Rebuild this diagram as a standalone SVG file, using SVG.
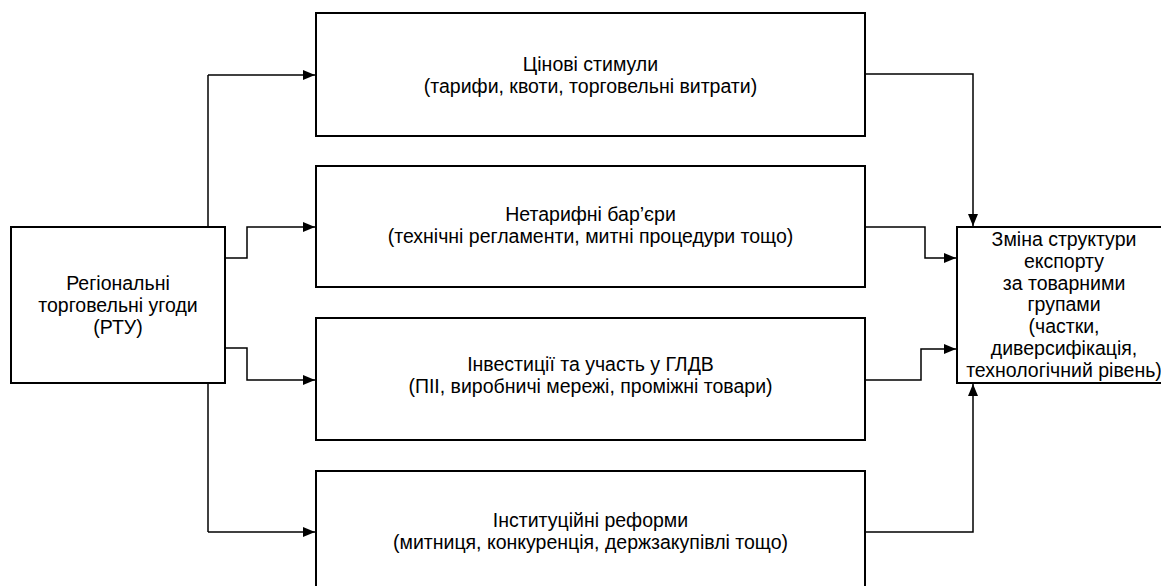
<svg xmlns="http://www.w3.org/2000/svg" width="1161" height="586" viewBox="0 0 1161 586">
  <style>
    .box { fill: #ffffff; stroke: #000000; stroke-width: 2; }
    .lbl { font-family: "Liberation Sans", Arial, sans-serif; font-size: 19.5px; fill: #000000; text-anchor: middle; }
    .wire { fill: none; stroke: #000000; stroke-width: 1.5; }
  </style>
  <defs>
    <marker id="arrow" viewBox="0 0 12 10" refX="12" refY="5" markerWidth="12" markerHeight="10" markerUnits="userSpaceOnUse" orient="auto">
      <path d="M0,0 L12,5 L0,10 Z" fill="#000000"/>
    </marker>
  </defs>

  <rect width="1161" height="586" fill="#ffffff"/>

  <!-- connectors -->
  <g id="connectors">
    <path class="wire" d="M208,75 V532"/>
    <path class="wire" d="M208,75 H315" marker-end="url(#arrow)"/>
    <path class="wire" d="M225,258 H247 V227 H315" marker-end="url(#arrow)"/>
    <path class="wire" d="M225,348 H247 V380 H315" marker-end="url(#arrow)"/>
    <path class="wire" d="M208,532 H315" marker-end="url(#arrow)"/>

    <path class="wire" d="M865,74 H973 V226" marker-end="url(#arrow)"/>
    <path class="wire" d="M865,227 H925 V258 H956" marker-end="url(#arrow)"/>
    <path class="wire" d="M865,380 H921 V349 H956" marker-end="url(#arrow)"/>
    <path class="wire" d="M865,532 H973 V384" marker-end="url(#arrow)"/>
  </g>

  <!-- source -->
  <g id="rta">
    <rect class="box" x="11" y="227" width="214" height="156"/>
    <text class="lbl" x="118" y="290">Регіональні</text>
    <text class="lbl" x="118" y="312">торговельні угоди</text>
    <text class="lbl" x="118" y="334">(РТУ)</text>
  </g>

  <!-- channels -->
  <g id="price">
    <rect class="box" x="316" y="13" width="549" height="123"/>
    <text class="lbl" x="590.5" y="71">Цінові стимули</text>
    <text class="lbl" x="590.5" y="93">(тарифи, квоти, торговельні витрати)</text>
  </g>

  <g id="ntb">
    <rect class="box" x="316" y="166" width="549" height="121"/>
    <text class="lbl" x="590.5" y="221">Нетарифні бар’єри</text>
    <text class="lbl" x="590.5" y="243">(технічні регламенти, митні процедури тощо)</text>
  </g>

  <g id="gvc">
    <rect class="box" x="316" y="318" width="549" height="122"/>
    <text class="lbl" x="590.5" y="371">Інвестиції та участь у ГЛДВ</text>
    <text class="lbl" x="590.5" y="393">(ПІІ, виробничі мережі, проміжні товари)</text>
  </g>

  <g id="inst">
    <rect class="box" x="316" y="471" width="549" height="122"/>
    <text class="lbl" x="590.5" y="527">Інституційні реформи</text>
    <text class="lbl" x="590.5" y="549">(митниця, конкуренція, держзакупівлі тощо)</text>
  </g>

  <!-- outcome -->
  <g id="outcome">
    <rect class="box" x="957" y="227" width="214" height="156"/>
    <text class="lbl" x="1064" y="246">Зміна структури</text>
    <text class="lbl" x="1064" y="268">експорту</text>
    <text class="lbl" x="1064" y="290">за товарними</text>
    <text class="lbl" x="1064" y="311">групами</text>
    <text class="lbl" x="1064" y="333">(частки,</text>
    <text class="lbl" x="1064" y="355">диверсифікація,</text>
    <text class="lbl" x="1064" y="377">технологічний рівень)</text>
  </g>
</svg>
